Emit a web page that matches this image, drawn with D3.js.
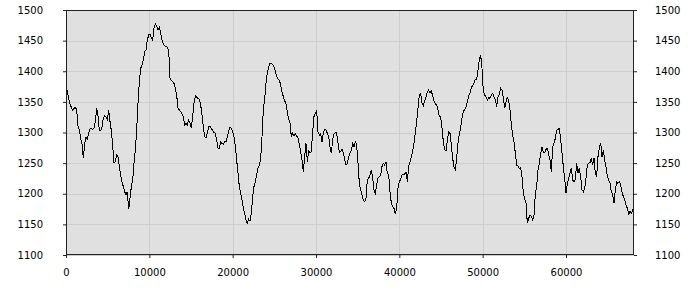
<!DOCTYPE html>
<html>
<head>
<meta charset="utf-8">
<script src="https://cdn.jsdelivr.net/npm/d3@7"></script>
<style>
  html, body { margin: 0; padding: 0; background: #ffffff; }
  svg { display: block; }
  .tick text { font-family: "DejaVu Sans", sans-serif; font-size: 10px; fill: #000; }
</style>
</head>
<body>
<svg id="chart" width="700" height="300"></svg>
<script>
const xStep = 160;
const values = [
1375,1367,1356,1347,1341,1337,1339,1341,1337,1310,1304,1290.5,1281,1258,1282,1292,1289,1298,1306,1307,
1305,1307,1318,1339.5,1327,1304,1303,1309.5,1323,1327,1325,1320.5,1337,1318,1303,1280,1250,1252.4,1263,1260.6,
1244,1229.5,1219.7,1211.6,1203.4,1198,1203.4,1174.6,1192.5,1211.6,1222.5,1249.7,1271.4,1304,1347.6,1383,1404.8,1410.2,1418.4,1432,
1434.7,1451,1459.2,1460.8,1453.7,1451,1470,1477,1473.9,1467.3,
1471.7,1461.9,1451,1444.5,1441.2,1440.1,1439,1434.7,1389.5,1384.6,1383,1380.3,1372.1,1361.2,1339.5,1336.7,1334,1330.2,1325.9,1312.3,
1315,1312.3,1320.4,1315,1306.8,1325.9,1347.6,1359.6,1357.4,1355.8,1354.2,1344.9,1328.6,1309.5,1293.2,1291.6,1299.7,1309.5,1310.6,1306.8,
1303,1300.3,1298.6,1287.8,1274.2,1274.2,1285,1282.3,1281.2,1285,1285,1292.1,1301.4,1309.5,1306.8,1301.4,1293.2,1276.9,1255.1,1233.3,
1211.6,1200.7,1189.8,1176.2,1168,1157.2,1151.7,1158.2,1156,1168,
1195.2,1211.6,1219.7,1230.6,1241.5,1246.9,1257.8,1293.2,1337.8,1354.2,1380.3,1397.7,1406.4,1412.9,1412.9,1411.3,1406.4,1399.9,1391.2,1386.8,
1385.7,1377.6,1366.7,1358.5,1352,1346.5,1334,1321.5,1315,1293.2,1298.6,1294.3,1297.6,1294.3,1290.5,1279.6,1268.7,1255.1,1236.1,1260.6,
1282.3,1252.4,1271.4,1266,1268.7,1301.4,1325.9,1331.3,1336.7,1301.4,1295.9,1298.6,1285,1299.7,1305.2,1304.1,1298.6,1293.2,1276.9,1266,
1287.8,1297.6,1299.2,1299.2,1282.3,1267.1,1268.7,1272.5,1266,1256.2,1246.9,
1249.7,1260.6,1266,1271.4,1282.3,1276.9,1285,1279.6,1249.7,1217,1206.1,1198,1189.8,1187.1,1192.5,1222.5,1225.2,1230.6,1238.8,1225.2,
1206.1,1200.7,1214.3,1225.2,1227.9,1230.6,1244.2,1249.7,1246.9,1252.4,1233.3,1230.6,1203.4,1184.4,1178.9,1176.2,1166.9,1176.2,1208.9,1219.7,
1223.6,1230.6,1231.7,1232.3,1235,1219.7,1244.2,1252.4,1259.5,1270.3,1283.4,1299.7,1317.7,1339.5,1361.2,1363.9,1347.6,1343.3,1352,1358.5,
1366.7,1369.4,1363.9,1367.8,1359.6,1352,1346.5,1344.9,1336.7,1326.9,
1324.8,1306.8,1285,1271.4,1270.3,1287.8,1301.4,1298.6,1279.6,1257.8,1244.2,1239.9,1257.8,1282.3,1297.6,1308.4,1323.1,1334,1337.8,1341.1,
1350.3,1359.6,1365,1373.7,1375.9,1380.3,1386.8,1385.7,1402,1418.4,1426.5,1404.8,1366.7,1361.2,1357.4,1353.1,1357.4,1355.8,1361.2,1363.9,
1357.4,1353.1,1342.2,1358.5,1362.9,1372.1,1369.4,1355.8,1339.5,1350.3,1357.4,1353.1,1336.7,1312.3,1295.9,1285,1266,1246.9,1245.3,1241.5,
1243.1,1227.9,1200.7,1192.5,1184.4,1151.7,1159.9,1165.3,1162.6,1157.2,1165.3,
1200.7,1211.6,1238.8,1249.7,1266,1276.9,1267.1,1267.1,1272.5,1274.2,1264.9,1255.1,1236.1,1276.9,1282.3,1290.5,1304.1,1305.2,1306.8,1287.8,
1266,1244.2,1225.2,1200.7,1217,1225.2,1233.3,1241.5,1222.5,1219.7,1223.6,1249.7,1233.3,1241.5,1227.9,1206.1,1203.4,1208.9,1225.2,1246.9,
1249.7,1250.8,1257.8,1246.9,1257.8,1233.3,1227.9,1260.6,1274.2,1283.4,1260.6,1271.4,1255.1,1244.2,1227.9,1222.5,1217,1203.4,1198,1184.4,
1206.1,1219.7,1217,1219.7,1214.3,1203.4,1195.2,1189.8,1181.6,1176.2,1166.9,1170.8,1168,1173.5,1165.3
];
const yTicks = [1100,1150,1200,1250,1300,1350,1400,1450,1500];
const xTicks = [0,10000,20000,30000,40000,50000,60000];
const yDomain = [1100, 1500];

const data = values.map((v, i) => ({ x: i * xStep, y: v }));

const svg = d3.select("#chart");
const margin = { left: 66, right: 66, top: 10, bottom: 45 };
const W = 700, H = 300;
const iw = W - margin.left - margin.right;
const ih = H - margin.top - margin.bottom;

const x = d3.scaleLinear().domain(d3.extent(data, d => d.x)).range([0, iw]);
const y = d3.scaleLinear().domain(yDomain).range([ih, 0]);

const g = svg.append("g").attr("transform", `translate(${margin.left},${margin.top})`);

g.append("rect").attr("x", 0).attr("y", 0).attr("width", iw).attr("height", ih).attr("fill", "#e0e0e0");

// grid
g.append("g").selectAll("line.h").data(yTicks).join("line")
  .attr("x1", 0).attr("x2", iw)
  .attr("y1", d => Math.round(y(d)) + 0.5).attr("y2", d => Math.round(y(d)) + 0.5)
  .attr("stroke", "#cdcdcd").attr("stroke-width", 1);
g.append("g").selectAll("line.v").data(xTicks).join("line")
  .attr("y1", 0).attr("y2", ih)
  .attr("x1", d => Math.round(x(d)) + 0.5).attr("x2", d => Math.round(x(d)) + 0.5)
  .attr("stroke", "#cdcdcd").attr("stroke-width", 1);

// line
const line = d3.line().x(d => x(d.x)).y(d => y(d.y));
g.append("path").datum(data).attr("d", line)
  .attr("fill", "none").attr("stroke", "#000").attr("stroke-width", 1)
  .attr("shape-rendering", "crispEdges");

// frame
g.append("rect").attr("x", 0.5).attr("y", 0.5).attr("width", iw - 1).attr("height", ih - 1)
  .attr("fill", "none").attr("stroke", "#222").attr("stroke-width", 1);

// axes
const leftAxis = d3.axisLeft(y).tickValues(yTicks).tickSize(3).tickPadding(20).tickFormat(d3.format("d"));
const rightAxis = d3.axisRight(y).tickValues(yTicks).tickSize(3).tickPadding(18).tickFormat(d3.format("d"));
const bottomAxis = d3.axisBottom(x).tickValues(xTicks).tickSize(3).tickPadding(11).tickFormat(d3.format("d"));

function style(sel) {
  sel.select(".domain").remove();
  sel.selectAll(".tick line").attr("stroke", "#222");
  sel.selectAll(".tick text").attr("fill", "#000");
}
g.append("g").call(leftAxis).call(style);
g.append("g").attr("transform", `translate(${iw},0)`).call(rightAxis).call(style);
g.append("g").attr("transform", `translate(0,${ih})`).call(bottomAxis).call(style);
</script>
</body>
</html>
